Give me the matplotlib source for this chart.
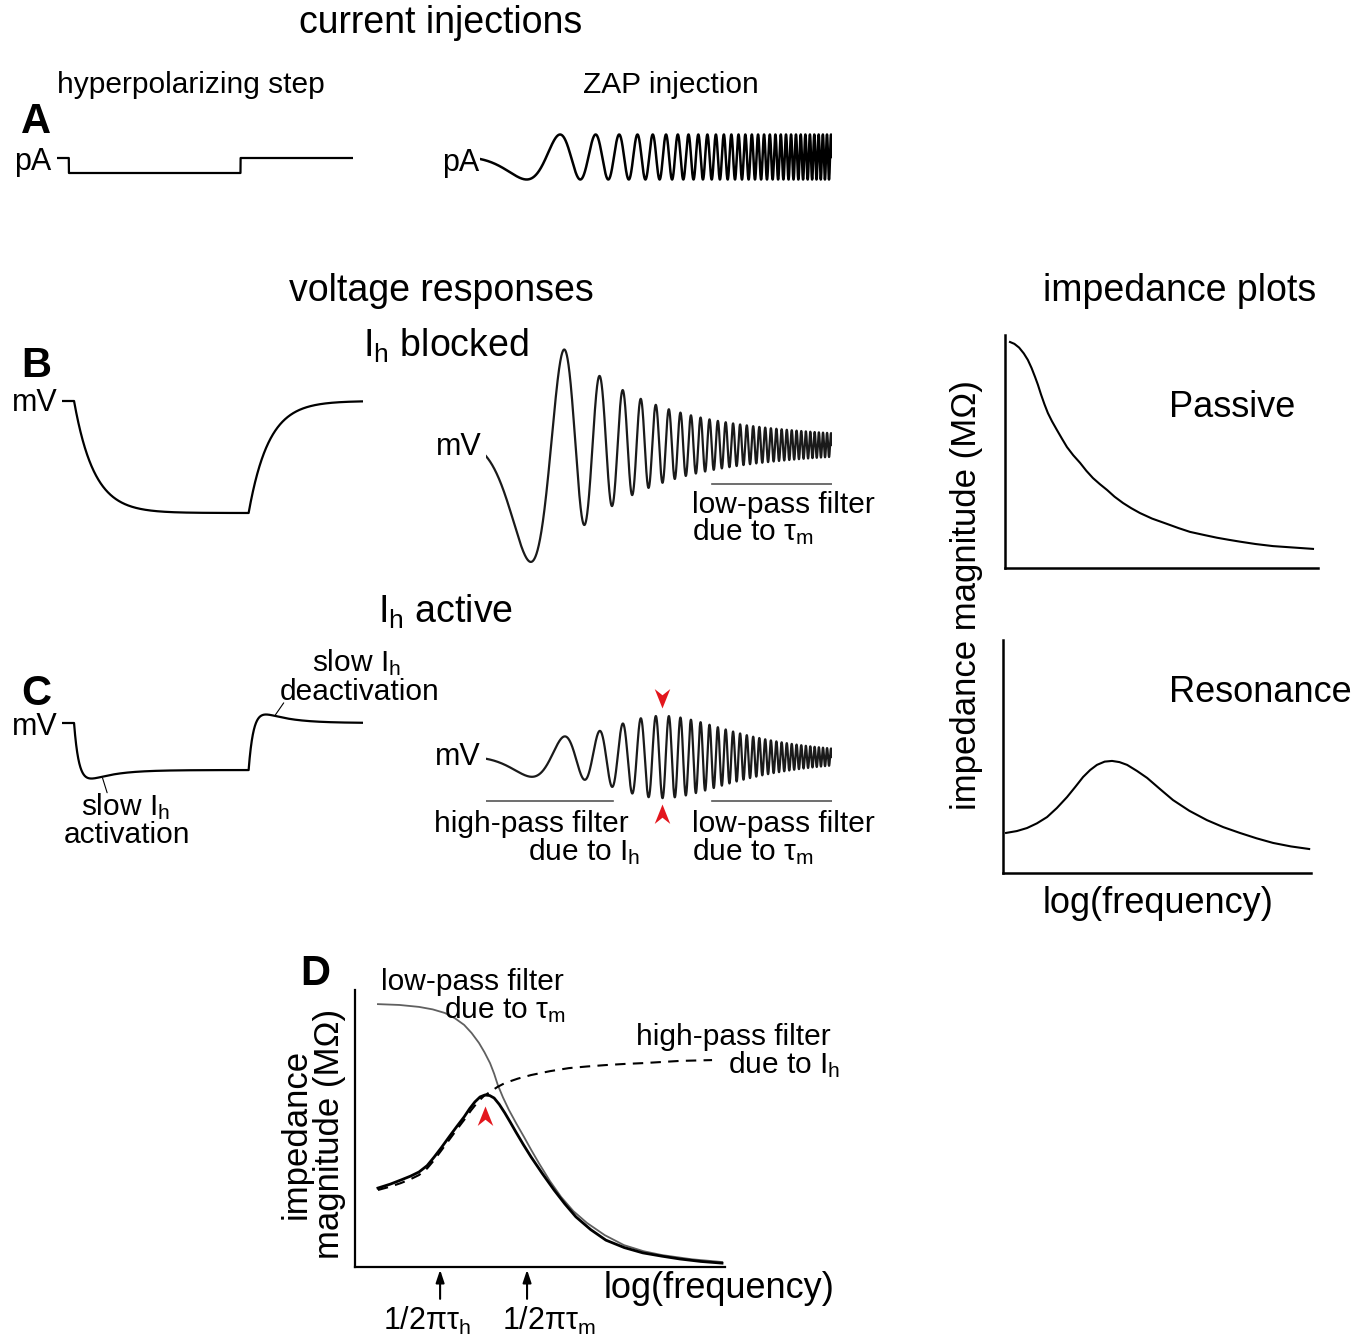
import numpy as np
import matplotlib
matplotlib.use("Agg")
import matplotlib.pyplot as plt
from matplotlib.path import Path

plt.rcParams['font.family'] = ['Liberation Sans', 'DejaVu Sans']
plt.rcParams['mathtext.fontset'] = 'custom'
plt.rcParams['mathtext.rm'] = 'Liberation Sans'
plt.rcParams['mathtext.it'] = 'Liberation Sans:italic'
plt.rcParams['mathtext.default'] = 'regular'

# ---- step protocol (ms) ----
step_dur = 300
step_on, step_off = 12, 186
step_pA = -1.0
tau_m = 20.0            # passive membrane time constant
dv_blocked = 10.0       # mV, Ih blocked
dv_peak, dv_sag = 6.1, 1.9   # mV, Ih active: fast drop and slow sag
tau_fast, tau_h = 5.0, 25.0

# ---- ZAP (time in units of the sweep) ----
zap_cycles = 32         # phase = cycles * t^3
zap_start = 0.076
zap_amp_blocked = 11.3  # mV
zap_amp_active = 4.9    # mV
lp_cut_passive = 9.0    # cycles / unit time
hp_floor, hp_cut, lp_cut_res = 0.36, 23.0, 38.0

# ---- impedance plots (normalised log f, normalised |Z|) ----
passive_f = [0.016, 0.030, 0.045, 0.060, 0.073, 0.085, 0.096, 0.105, 0.115, 0.126,
             0.137, 0.150, 0.166, 0.182, 0.198, 0.218, 0.240, 0.260, 0.281, 0.303,
             0.326, 0.350, 0.377, 0.403, 0.431, 0.470, 0.518, 0.555, 0.591, 0.635,
             0.677, 0.715, 0.751, 0.800, 0.856, 0.920, 0.984]
passive_z = [0.970, 0.962, 0.946, 0.921, 0.893, 0.858, 0.820, 0.787, 0.745, 0.703,
             0.665, 0.630, 0.592, 0.555, 0.519, 0.484, 0.451, 0.417, 0.386, 0.360,
             0.335, 0.306, 0.279, 0.257, 0.236, 0.212, 0.189, 0.171, 0.155, 0.142,
             0.130, 0.121, 0.113, 0.103, 0.094, 0.088, 0.082]
res_f = [0.010, 0.045, 0.078, 0.110, 0.143, 0.175, 0.208, 0.235, 0.260, 0.283,
         0.305, 0.330, 0.354, 0.378, 0.403, 0.435, 0.468, 0.510, 0.552, 0.605,
         0.662, 0.715, 0.769, 0.823, 0.877, 0.935, 0.994]
res_z = [0.172, 0.180, 0.193, 0.213, 0.240, 0.279, 0.326, 0.370, 0.412, 0.442,
         0.464, 0.478, 0.481, 0.476, 0.464, 0.438, 0.408, 0.360, 0.313, 0.267,
         0.227, 0.197, 0.172, 0.149, 0.129, 0.114, 0.103]

# ---- panel D ----
d_lp_f = [0.062, 0.120, 0.173, 0.210, 0.243, 0.270, 0.295, 0.315, 0.335, 0.350,
          0.365, 0.376, 0.386, 0.400, 0.416, 0.436, 0.457, 0.477, 0.497, 0.527,
          0.557, 0.590, 0.627, 0.675, 0.727, 0.780, 0.830, 0.910, 0.992]
d_lp_z = [0.949, 0.946, 0.939, 0.930, 0.917, 0.898, 0.874, 0.845, 0.809, 0.775,
          0.736, 0.698, 0.657, 0.612, 0.567, 0.518, 0.469, 0.421, 0.375, 0.310,
          0.253, 0.202, 0.159, 0.115, 0.079, 0.057, 0.043, 0.028, 0.018]
d_res_f = [0.062, 0.095, 0.124, 0.150, 0.173, 0.195, 0.214, 0.234, 0.254, 0.275,
           0.295, 0.310, 0.324, 0.338, 0.351, 0.364, 0.376, 0.390, 0.405, 0.420,
           0.435, 0.455, 0.476, 0.507, 0.538, 0.567, 0.597, 0.637, 0.678, 0.728,
           0.778, 0.830, 0.878, 0.935, 0.992]
d_res_z = [0.285, 0.299, 0.314, 0.328, 0.343, 0.366, 0.397, 0.432, 0.469, 0.507,
           0.542, 0.572, 0.596, 0.614, 0.621, 0.619, 0.610, 0.587, 0.556, 0.522,
           0.487, 0.442, 0.397, 0.336, 0.278, 0.228, 0.181, 0.135, 0.097, 0.070,
           0.051, 0.039, 0.029, 0.020, 0.014]
d_hp_f = [0.062, 0.095, 0.124, 0.150, 0.173, 0.195, 0.214, 0.234, 0.254, 0.275,
          0.295, 0.314, 0.332, 0.348, 0.365, 0.385, 0.405, 0.440, 0.476, 0.527,
          0.578, 0.628, 0.678, 0.728, 0.778, 0.878, 0.965]
d_hp_z = [0.278, 0.290, 0.303, 0.317, 0.332, 0.356, 0.386, 0.422, 0.458, 0.496,
          0.531, 0.566, 0.596, 0.617, 0.632, 0.650, 0.664, 0.680, 0.693, 0.707,
          0.718, 0.724, 0.729, 0.733, 0.736, 0.744, 0.747]
d_cutoffs = [0.23, 0.465]
d_cutoff_labels = ['1/2πτ$_h$', '1/2πτ$_m$']

# filter bars under the ZAP responses (ZAP time units)
bar_hp = (0.073, 0.414)
bar_lp = (0.68, 1.0)

W, H = 1370, 1340
fig = plt.figure(figsize=(W / 100, H / 100), dpi=100)
RED = '#e3161d'


def box(x0, y0, x1, y1):
    return fig.add_axes([x0 / W, 1 - y1 / H, (x1 - x0) / W, (y1 - y0) / H])


def trace_ax(x0, x1, top, bottom, xlim, zero_y, scale):
    ax = box(x0, top, x1, bottom)
    ax.set_xlim(*xlim)
    ax.set_ylim(-(bottom - zero_y) / scale, (zero_y - top) / scale)
    ax.axis('off')
    return ax


def label(x, y, s, size=21.5, **kw):
    fig.text(x / W, 1 - y / H, s, fontsize=size, va='baseline', **kw)


def rise(t, amp, tau):
    return np.where(t > 0, amp * (1 - np.exp(-np.clip(t, 0, None) / tau)), 0.0)


def plain_axes(ax, lw):
    ax.set_xlim(0, 1)
    ax.set_ylim(0, 1)
    for sp in ['top', 'right']:
        ax.spines[sp].set_visible(False)
    for sp in ['left', 'bottom']:
        ax.spines[sp].set_linewidth(lw)
    ax.set_xticks([])
    ax.set_yticks([])
    ax.patch.set_alpha(0)


arrow_down = Path([(0, 0), (0.4, 1.0), (0, 0.68), (-0.4, 1.0), (0, 0)],
                  [Path.MOVETO, Path.LINETO, Path.LINETO, Path.LINETO, Path.CLOSEPOLY])
arrow_up = Path([(0, 0), (0.4, -1.0), (0, -0.68), (-0.4, -1.0), (0, 0)],
                [Path.MOVETO, Path.LINETO, Path.LINETO, Path.LINETO, Path.CLOSEPOLY])

MV = 11.2   # px per mV

# ---------------- A: current injections ----------------
t = np.linspace(0, step_dur, 6001)
i_step = np.where((t >= step_on) & (t < step_off), step_pA, 0.0)
ax = trace_ax(57, 353, 143, 188, (0, step_dur), 158, 15)
ax.plot(t, i_step, color='k', lw=1.6)

s = np.linspace(zap_start, 1, 30000)
phase = zap_cycles * s ** 3
freq = 3 * zap_cycles * s ** 2
ax = trace_ax(480, 832, 131, 183, (zap_start, 1), 157, 22.5)
ax.plot(s, -np.sin(2 * np.pi * phase), color='k', lw=1.8)

label(441, 33, 'current injections', size=27, ha='center')
label(57, 93, 'hyperpolarizing step')
label(671, 93, 'ZAP injection', ha='center')
label(21, 133, 'A', size=30, weight='bold')
label(51, 170, 'pA', size=22, ha='right')
label(479, 171, 'pA', size=22, ha='right')

# ---------------- B: Ih blocked ----------------
v_b = -rise(t - step_on, dv_blocked, tau_m) + rise(t - step_off, dv_blocked, tau_m)
ax = trace_ax(62, 363, 385, 530, (0, step_dur), 401, MV)
ax.plot(t, v_b, color='k', lw=1.6)

env_b = zap_amp_blocked / np.sqrt(1 + (freq / lp_cut_passive) ** 2)
ax = trace_ax(486, 832, 320, 575, (zap_start, 1), 445, MV)
ax.plot(s, -env_b * np.sin(2 * np.pi * phase), color='#1a1a1a', lw=1.6)
ax.plot(bar_lp, [-3.5, -3.5], color='#555555', lw=1.2)

label(441, 301, 'voltage responses', size=27, ha='center')
label(1180, 301, 'impedance plots', size=27, ha='center')
label(21, 377, 'B', size=30, weight='bold')
label(58, 411, 'mV', size=22, ha='right')
label(363, 357, 'I$_h$ blocked', size=27)
label(482, 455, 'mV', size=22, ha='right')
label(692, 513, 'low-pass filter')
label(692, 540, 'due to τ$_m$')

# ---------------- C: Ih active ----------------


def h_active(tt):
    return rise(tt, dv_peak, tau_fast) - rise(tt, dv_sag, tau_h)


v_c = -h_active(t - step_on) + h_active(t - step_off)
ax = trace_ax(62, 363, 700, 800, (0, step_dur), 723, MV)
ax.plot(t, v_c, color='k', lw=1.6)
for tp, off in [(40, (5, -16)), (212, (9, 13))]:
    vp = np.interp(tp, t, v_c)
    ax.annotate('', xy=(tp, vp), xytext=off, textcoords='offset pixels',
                arrowprops=dict(arrowstyle='-', lw=0.8, color='k',
                                shrinkA=0, shrinkB=1))

hp = np.sqrt((hp_floor ** 2 + (freq / hp_cut) ** 4) / (1 + (freq / hp_cut) ** 4))
lp = 1 / np.sqrt(1 + (freq / lp_cut_res) ** 4)
env_c = zap_amp_active * hp * lp
ax = trace_ax(486, 832, 680, 830, (zap_start, 1), 757, MV)
ax.plot(s, -env_c * np.sin(2 * np.pi * phase), color='#1a1a1a', lw=1.6)
ax.plot(bar_hp, [-3.95, -3.95], color='#555555', lw=1.2)
ax.plot(bar_lp, [-3.95, -3.95], color='#555555', lw=1.2)
k = np.argmax(env_c)
ax.plot(s[k], env_c[k] + 0.7, marker=arrow_down, ms=28, color=RED, mec='none')
ax.plot(s[k], -env_c[k] - 0.5, marker=arrow_up, ms=28, color=RED, mec='none')

label(378, 623, 'I$_h$ active', size=27)
label(21, 705, 'C', size=30, weight='bold')
label(58, 735, 'mV', size=22, ha='right')
label(357, 671, 'slow I$_h$', ha='center')
label(360, 700, 'deactivation', ha='center')
label(126, 815, 'slow I$_h$', ha='center')
label(127, 843, 'activation', ha='center')
label(481, 765, 'mV', size=22, ha='right')
label(629, 832, 'high-pass filter', ha='right')
label(640, 860, 'due to I$_h$', ha='right')
label(692, 832, 'low-pass filter')
label(692, 860, 'due to τ$_m$')

# ---------------- impedance plots ----------------
for (x0, y0, x1, y1), fx, zy, name, ny in [
        ((1005, 335, 1318, 568), passive_f, passive_z, 'Passive', 417),
        ((1003, 640, 1311, 873), res_f, res_z, 'Resonance', 702)]:
    ax = box(x0, y0, x1, y1)
    ax.plot(fx, zy, color='k', lw=1.5)
    plain_axes(ax, 1.8)
    label(1169, ny, name, size=26)

fig.text(966 / W, 1 - 595 / H, 'impedance magnitude (MΩ)', rotation=90,
         ha='center', va='center', fontsize=25)
label(1158, 913, 'log(frequency)', size=26, ha='center')

# ---------------- D ----------------
ax = box(355, 990, 725, 1267)
ax.plot(d_lp_f, d_lp_z, color='#606060', lw=1.3)
ax.plot(d_hp_f, d_hp_z, color='k', lw=1.5, ls=(0, (5, 3.5)))
ax.plot(d_res_f, d_res_z, color='k', lw=2.0)
kp = int(np.argmax(d_res_z))
ax.plot(d_res_f[kp], d_res_z[kp] - 0.04, marker=arrow_up, ms=28, color=RED, mec='none')
plain_axes(ax, 1.6)
for c in d_cutoffs:
    ax.annotate('', xy=(c, -0.01), xytext=(c, -0.115), annotation_clip=False,
                arrowprops=dict(arrowstyle='-|>,head_length=0.75,head_width=0.25',
                                lw=1.5, color='k', shrinkA=0, shrinkB=0))

label(300, 985, 'D', size=30, weight='bold')
label(381, 990, 'low-pass filter')
label(566, 1018, 'due to τ$_m$', ha='right')
label(831, 1045, 'high-pass filter', ha='right')
label(840, 1073, 'due to I$_h$', ha='right')
fig.text(296 / W, 1 - 1134 / H, 'impedance', rotation=90, ha='center', va='center', fontsize=25)
fig.text(330 / W, 1 - 1134 / H, 'magnitude (MΩ)', rotation=90, ha='center', va='center', fontsize=25)
label(604, 1298, 'log(frequency)', size=26)
for xc, txt in zip([427, 549], d_cutoff_labels):
    label(xc, 1330, txt, size=22, ha='center')

fig.savefig('out.png', dpi=100)
